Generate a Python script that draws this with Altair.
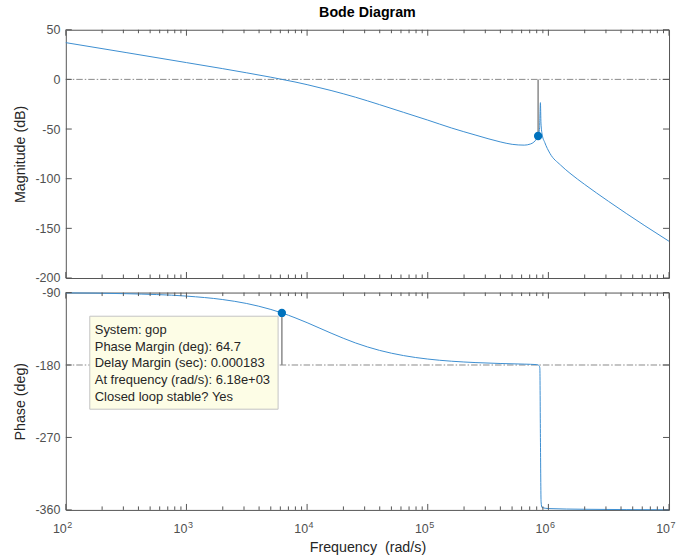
import altair as alt
import pandas as pd

# Open-loop frequency response of gop
mag_freq = [1.00e2, 3.16e2, 1.00e3, 2.00e3, 3.16e3, 5.01e3, 6.18e3, 7.94e3, 1.00e4,
            1.58e4, 2.51e4, 3.98e4, 6.31e4, 1.00e5, 1.58e5, 2.51e5, 3.98e5, 5.01e5,
            6.31e5, 7.08e5, 7.59e5, 7.94e5, 8.22e5, 8.45e5, 8.59e5, 8.68e5, 8.91e5,
            9.33e5, 1.03e6, 1.26e6, 1.51e6, 2.00e6, 3.16e6, 6.31e6, 1.00e7]
mag_db = [37.0, 27.0, 16.9, 10.8, 6.6, 2.2, 0.0, -2.6, -5.3,
          -11.2, -17.9, -25.4, -33.2, -41.0, -49.0, -56.2, -62.9, -65.4,
          -66.2, -65.1, -63.1, -60.3, -57.0, -48.5, -23.4, -44.0, -56.3,
          -63.5, -74.5, -86.2, -94.5, -105.8, -122.9, -147.4, -163.0]

ph_freq = [1.00e2, 3.16e2, 1.00e3, 2.00e3, 3.16e3, 5.01e3, 6.18e3, 7.94e3, 1.00e4,
           1.58e4, 2.51e4, 3.98e4, 6.31e4, 1.00e5, 1.58e5, 2.51e5, 3.98e5, 6.31e5,
           8.00e5, 8.22e5, 8.40e5, 8.50e5, 8.59e5, 8.70e5, 8.85e5, 1.00e6, 2.00e6, 1.00e7]
ph_deg = [-90.4, -91.4, -94.4, -98.7, -103.6, -111.0, -115.3, -121.3, -127.4,
          -140.4, -152.5, -161.8, -168.3, -172.6, -175.3, -177.0, -178.1, -178.9,
          -179.5, -180.0, -181.0, -184.0, -270.0, -350.0, -357.0, -358.3, -359.2, -359.8]

# Stability margins
pm_deg = 64.7
pm_freq = 6.18e3
delay_margin = 0.000183
gm_freq = 8.22e5
gm_db = -57.0

mag_ticks = [-200, -150, -100, -50, 0, 50]
ph_ticks = [-360, -270, -180, -90]
decades = [1e2, 1e3, 1e4, 1e5, 1e6, 1e7]
minor = [k * d for d in decades[:-1] for k in range(2, 10)]

tip_lines = [
    "System: gop",
    f"Phase Margin (deg): {pm_deg}",
    f"Delay Margin (sec): {delay_margin}",
    f"At frequency (rad/s): {pm_freq:.2e}",
    "Closed loop stable? Yes",
]

W, H1, H2 = 605, 249, 218
FONT = "Liberation Sans"
AX = "#555555"
LABEL = "#505050"
TITLE = "#262626"
CURVE = "#3d8fd1"
DOT = "#0072bd"
REF = "#8a8a8a"
DASHDOT = [6.5, 2, 1.5, 2]
AXIS_STYLE = dict(labelFont=FONT, titleFont=FONT, labelColor=LABEL, titleColor=TITLE,
                  labelFontSize=12.5, titleFontSize=14.3, titleFontWeight="normal")

x_scale = alt.Scale(type="log", domain=[1e2, 1e7], nice=False)
x_top = alt.X("f:Q", scale=x_scale, axis=None)
x_bot = alt.X("f:Q", scale=x_scale,
              axis=alt.Axis(labels=False, ticks=False, domain=False, grid=False,
                            title="Frequency\u00a0 (rad/s)", titlePadding=31, **AXIS_STYLE))


def y_enc(domain, values, title):
    # plain hyphen-minus for negative tick labels
    return alt.Y("v:Q", scale=alt.Scale(domain=domain, nice=False),
                 axis=alt.Axis(values=values, ticks=False, domain=False, grid=False,
                               labelExpr="datum.value + ''",
                               labelPadding=6, title=title, titlePadding=7, **AXIS_STYLE))


def x_ticks(x_enc, height):
    """Inward decade and sub-decade ticks on the top and bottom edges."""
    maj = alt.Chart(pd.DataFrame({"f": decades}))
    mnr = alt.Chart(pd.DataFrame({"f": minor}))
    return [
        maj.mark_rule(color=AX).encode(x=x_enc, y=alt.value(0), y2=alt.value(6)),
        mnr.mark_rule(color=AX).encode(x=x_enc, y=alt.value(0), y2=alt.value(3.5)),
        maj.mark_rule(color=AX).encode(x=x_enc, y=alt.value(height), y2=alt.value(height - 6)),
        mnr.mark_rule(color=AX).encode(x=x_enc, y=alt.value(height), y2=alt.value(height - 3.5)),
    ]


def y_ticks(y, values):
    """Inward ticks on the left and right edges."""
    base = alt.Chart(pd.DataFrame({"v": values}))
    return [
        base.mark_rule(color=AX).encode(y=y, x=alt.value(0), x2=alt.value(6)),
        base.mark_rule(color=AX).encode(y=y, x=alt.value(W - 6), x2=alt.value(W)),
    ]


# ---- magnitude panel ----
y_mag = y_enc([-200, 50], mag_ticks, "Magnitude (dB)")
mag_df = pd.DataFrame({"f": mag_freq, "v": mag_db})

zero_line = alt.Chart(pd.DataFrame({"v": [0]})).mark_rule(
    color=REF, strokeWidth=1, strokeDash=DASHDOT).encode(y=y_mag)
gm_line = alt.Chart(pd.DataFrame({"f": [gm_freq], "v": [0.0], "v2": [gm_db]})).mark_rule(
    color=REF, strokeWidth=1.5).encode(x=x_top, y=y_mag, y2="v2:Q")
mag_curve = alt.Chart(mag_df).mark_line(
    color=CURVE, strokeWidth=1, interpolate="monotone").encode(x=x_top, y=y_mag)
gm_dot = alt.Chart(pd.DataFrame({"f": [gm_freq], "v": [gm_db]})).mark_circle(
    color=DOT, size=70, opacity=1).encode(x=x_top, y=y_mag)

top = alt.layer(
    zero_line, gm_line, mag_curve, gm_dot,
    *x_ticks(x_top, H1), *y_ticks(y_mag, mag_ticks),
).properties(
    width=W, height=H1,
    title=alt.Title("Bode Diagram", font=FONT, fontSize=14.3, fontWeight="bold",
                    color="#000000", anchor="middle", frame="group", offset=3.6),
)

# ---- phase panel ----
y_ph = y_enc([-360, -90], ph_ticks, "Phase (deg)")
ph_df = pd.DataFrame({"f": ph_freq, "v": ph_deg})

m180_line = alt.Chart(pd.DataFrame({"v": [-180]})).mark_rule(
    color=REF, strokeWidth=1, strokeDash=DASHDOT).encode(y=y_ph)
pm_line = alt.Chart(pd.DataFrame({"f": [pm_freq], "v": [-180.0], "v2": [-180.0 + pm_deg]})).mark_rule(
    color=REF, strokeWidth=1.5).encode(x=x_bot, y=y_ph, y2="v2:Q")
ph_curve = alt.Chart(ph_df).mark_line(
    color=CURVE, strokeWidth=1, interpolate="monotone").encode(x=x_bot, y=y_ph)
pm_dot = alt.Chart(pd.DataFrame({"f": [pm_freq], "v": [-180.0 + pm_deg]})).mark_circle(
    color=DOT, size=70, opacity=1).encode(x=x_bot, y=y_ph)

# data tip box with the margin read-out
tip_box = alt.Chart(pd.DataFrame({"f": [158], "f2": [5750], "v": [-119.4], "v2": [-234.9]})).mark_rect(
    fill="#fdfde6", stroke="#c4c4c4", strokeWidth=1).encode(x=x_bot, x2="f2:Q", y=y_ph, y2="v2:Q")
tip_text = alt.Chart(pd.DataFrame({"f": [173.7], "v": [-136.7]})).mark_text(
    align="left", baseline="middle", lineHeight=16.7, font=FONT, fontSize=13, color=TITLE
).encode(x=x_bot, y=y_ph, text=alt.value(tip_lines))

# decade labels 10^n under the phase panel
dec_df = pd.DataFrame({"f": decades, "e": [str(len(str(int(d))) - 1) for d in decades]})
dec_base = alt.Chart(dec_df).mark_text(
    align="right", baseline="middle", font=FONT, fontSize=12.5, color=LABEL, dx=1, dy=19.3
).encode(x=x_bot, y=alt.value(H2), text=alt.value("10"))
dec_exp = alt.Chart(dec_df).mark_text(
    align="left", baseline="middle", font=FONT, fontSize=9, color=LABEL, dx=1.5, dy=15
).encode(x=x_bot, y=alt.value(H2), text="e:N")

bottom = alt.layer(
    m180_line, pm_line, ph_curve, pm_dot, tip_box, tip_text, dec_base, dec_exp,
    *x_ticks(x_bot, H2), *y_ticks(y_ph, ph_ticks),
).properties(width=W, height=H2)

chart = alt.vconcat(top, bottom, spacing=14.6, bounds="flush").properties(
    padding={"left": 13, "top": 4, "right": 1, "bottom": 2},
    background="white",
).configure_view(
    stroke=AX, strokeWidth=1,
)

chart.save("out.html", embed_options={"renderer": "svg", "actions": False})
